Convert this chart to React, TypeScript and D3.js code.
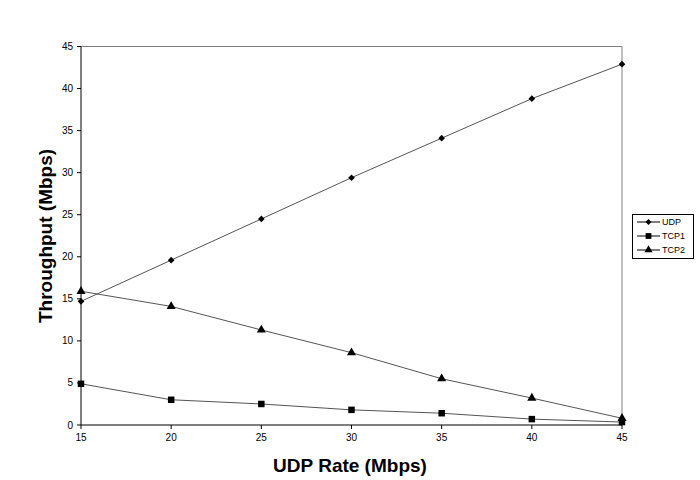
import React from "react";
import * as d3 from "d3";

const rates = [15, 20, 25, 30, 35, 40, 45];
const udp = [14.7, 19.6, 24.5, 29.4, 34.1, 38.8, 42.9];
const tcp1 = [4.9, 3.0, 2.5, 1.8, 1.4, 0.7, 0.35];
const tcp2 = [15.9, 14.1, 11.3, 8.6, 5.5, 3.2, 0.8];
const yTicks = [0, 5, 10, 15, 20, 25, 30, 35, 40, 45];
const seriesNames = ["UDP", "TCP1", "TCP2"];

const W = 700, H = 480;
const L = 81, R = 622, T = 46.5, B = 425;

export default function App() {
  const x = d3.scaleLinear().domain([15, 45]).range([L, R]);
  const y = d3.scaleLinear().domain([0, 45]).range([B, T]);
  const series = [
    { name: seriesNames[0], vals: udp, sym: d3.symbolSquare, size: 22, rot: 45 },
    { name: seriesNames[1], vals: tcp1, sym: d3.symbolSquare, size: 42, rot: 0 },
    { name: seriesNames[2], vals: tcp2, sym: d3.symbolTriangle, size: 36, rot: 0 },
  ];
  const line = d3.line<number>().x((_, i) => x(rates[i])).y((d) => y(d));
  const font = "Liberation Sans, Arial, sans-serif";
  return (
    <svg width={W} height={H} style={{ position: "absolute", left: 0, top: 0, background: "#fff" }} fontFamily={font}>
      <rect x={0} y={0} width={W} height={H} fill="#fff" />
      <line x1={L} x2={R} y1={T} y2={T} stroke="#808080" />
      <line x1={R} x2={R} y1={T} y2={B} stroke="#808080" />
      <line x1={L} x2={L} y1={T} y2={B} stroke="#000" />
      <line x1={L} x2={R} y1={B} y2={B} stroke="#000" />
      {yTicks.map((t) => (
        <g key={t}>
          <line x1={L - 4} x2={L} y1={y(t)} y2={y(t)} stroke="#000" />
          <text x={L - 8} y={y(t)} dy="0.35em" textAnchor="end" fontSize={10}>{t}</text>
        </g>
      ))}
      {rates.map((t) => (
        <g key={t}>
          <line x1={x(t)} x2={x(t)} y1={B} y2={B + 4} stroke="#000" />
          <text x={x(t)} y={B + 16} textAnchor="middle" fontSize={10}>{t}</text>
        </g>
      ))}
      {series.map((s) => (
        <g key={s.name}>
          <path d={line(s.vals) || ""} fill="none" stroke="#555" strokeWidth={1} />
          {s.vals.map((v, i) => (
            <path key={i} d={d3.symbol(s.sym, s.size)() || ""} transform={`translate(${x(rates[i])},${y(v)}) rotate(${s.rot})`} fill="#000" />
          ))}
        </g>
      ))}
      <text x={350} y={472} textAnchor="middle" fontSize={19} fontWeight="bold">UDP Rate (Mbps)</text>
      <text transform="translate(52,236) rotate(-90)" textAnchor="middle" fontSize={19} fontWeight="bold">Throughput (Mbps)</text>
      <rect x={632.5} y={214.5} width={61} height={44} fill="#fff" stroke="#000" />
      {series.map((s, i) => {
        const cy = 222 + i * 14;
        return (
          <g key={s.name}>
            <line x1={637} x2={660} y1={cy} y2={cy} stroke="#000" />
            <path d={d3.symbol(s.sym, s.size * 0.8)() || ""} transform={`translate(648.5,${cy}) rotate(${s.rot})`} fill="#000" />
            <text x={662} y={cy} dy="0.35em" fontSize={9}>{s.name}</text>
          </g>
        );
      })}
    </svg>
  );
}
